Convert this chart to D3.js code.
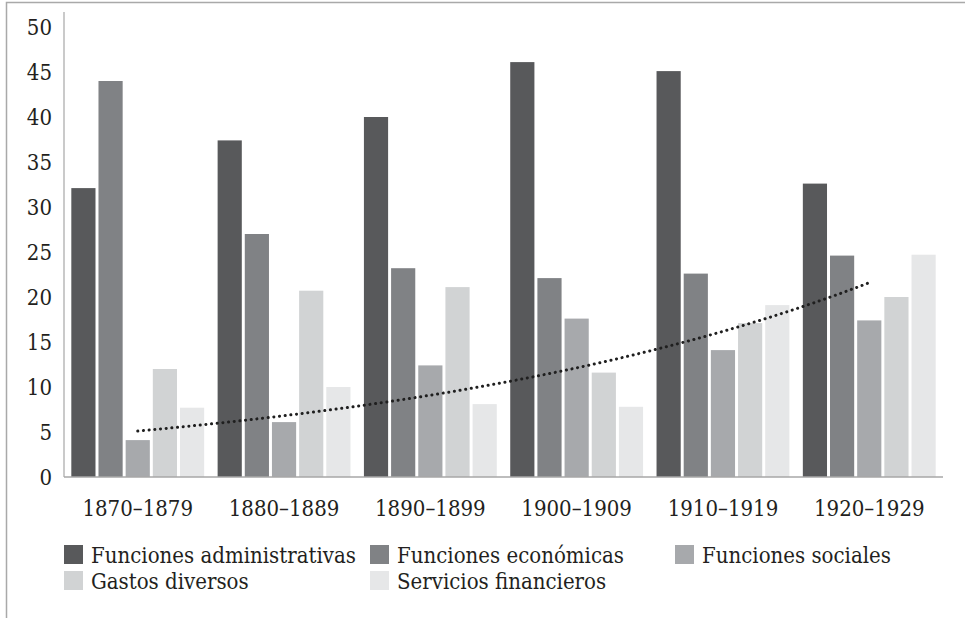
<!DOCTYPE html>
<html>
<head>
<meta charset="utf-8">
<script src="https://cdn.jsdelivr.net/npm/d3@7"></script>
<style>
  body { margin: 0; background: #fff; }
</style>
</head>
<body>
<div class="chart"></div>
<script>
// data
const categories = ["1870–1879", "1880–1889", "1890–1899", "1900–1909", "1910–1919", "1920–1929"];
const seriesNames = ["Funciones administrativas", "Funciones económicas", "Funciones sociales", "Gastos diversos", "Servicios financieros"];
const administrativas = [32.1, 37.4, 40.0, 46.1, 45.1, 32.6];
const economicas = [44.0, 27.0, 23.2, 22.1, 22.6, 24.6];
const sociales = [4.1, 6.1, 12.4, 17.6, 14.1, 17.4];
const diversos = [12.0, 20.7, 21.1, 11.6, 17.1, 20.0];
const financieros = [7.7, 10.0, 8.1, 7.8, 19.1, 24.7];
const yTicks = [0, 5, 10, 15, 20, 25, 30, 35, 40, 45, 50];

const seriesValues = [administrativas, economicas, sociales, diversos, financieros];
const colors = ["#58595b", "#808285", "#a7a9ac", "#d1d3d4", "#e6e7e8"];

let config = {
  width: 965,
  height: 618,
  left: 64,
  right: 943,
  top: 27,
  bottom: 477,
  font: "'DejaVu Serif Condensed', 'DejaVu Serif', serif",
  fontSize: "22px",
  textColor: "#231f20",
  axisColor: "#a7a7a7"
};

let svg = d3.select("div.chart").append("svg")
  .attr("width", config.width)
  .attr("height", config.height);

// frame (top + left)
svg.append("path")
  .attr("d", "M6.5,618 L6.5,2.5 L965,2.5")
  .attr("fill", "none")
  .attr("stroke", "#a9a9a9")
  .attr("stroke-width", 1.5);

let x0 = d3.scaleBand()
  .domain(categories)
  .range([config.left, config.right])
  .paddingInner(0.092)
  .paddingOuter(0.05);

let x1 = d3.scaleBand()
  .domain(seriesNames)
  .range([0, x0.bandwidth()])
  .paddingInner(0.11);

let y = d3.scaleLinear()
  .domain([0, 50])
  .range([config.bottom, config.top]);

// bars
let groups = svg.append("g").selectAll("g")
  .data(categories)
  .enter().append("g")
  .attr("transform", d => "translate(" + x0(d) + ",0)");

groups.selectAll("rect")
  .data((c, i) => seriesNames.map((s, j) => ({ s: s, j: j, v: seriesValues[j][i] })))
  .enter().append("rect")
  .attr("x", d => x1(d.s))
  .attr("width", x1.bandwidth())
  .attr("y", d => y(d.v))
  .attr("height", d => y(0) - y(d.v))
  .attr("fill", d => colors[d.j]);

// axes lines
svg.append("line")
  .attr("x1", config.left).attr("x2", config.left)
  .attr("y1", 12).attr("y2", y(0))
  .attr("stroke", config.axisColor).attr("stroke-width", 1.2);

svg.append("line")
  .attr("x1", config.left).attr("x2", config.right)
  .attr("y1", y(0)).attr("y2", y(0))
  .attr("stroke", config.axisColor).attr("stroke-width", 1.5);

// y axis labels
let yAxis = svg.append("g")
  .attr("transform", "translate(" + config.left + ",0)")
  .call(d3.axisLeft(y).tickValues(yTicks).tickSize(0).tickPadding(12));
yAxis.select(".domain").remove();
yAxis.selectAll("text")
  .attr("font-family", config.font)
  .attr("font-size", config.fontSize)
  .attr("fill", config.textColor);

// x axis labels
let xAxis = svg.append("g")
  .attr("transform", "translate(0," + y(0) + ")")
  .call(d3.axisBottom(x0).tickSize(0).tickPadding(23));
xAxis.select(".domain").remove();
xAxis.selectAll("text")
  .attr("font-family", config.font)
  .attr("font-size", config.fontSize)
  .attr("fill", config.textColor);

// exponential trend line fitted to "Funciones sociales"
let idx = d3.range(sociales.length);
let logs = sociales.map(v => Math.log(v));
let mx = d3.mean(idx), my = d3.mean(logs);
let slope = d3.sum(idx, i => (i - mx) * (logs[i] - my)) / d3.sum(idx, i => (i - mx) * (i - mx));
let intercept = my - slope * mx;

let xIdx = d3.scaleLinear()
  .domain([0, categories.length - 1])
  .range([x0(categories[0]) + x0.bandwidth() / 2, x0(categories[categories.length - 1]) + x0.bandwidth() / 2]);

let trendPts = d3.range(0, 5.0001, 0.1).map(t => [t, Math.exp(intercept + slope * t)]);

svg.append("path")
  .attr("d", d3.line().x(d => xIdx(d[0])).y(d => y(d[1]))(trendPts))
  .attr("fill", "none")
  .attr("stroke", "#1f1f1f")
  .attr("stroke-width", 3)
  .attr("stroke-linecap", "round")
  .attr("stroke-dasharray", "0.1,5.6");

// legend
let legendPos = [[64, 555], [370, 555], [675, 555], [64, 581], [370, 581]];
let legend = svg.append("g").selectAll("g")
  .data(seriesNames)
  .enter().append("g")
  .attr("transform", (d, i) => "translate(" + legendPos[i][0] + "," + legendPos[i][1] + ")");

legend.append("rect")
  .attr("x", 0).attr("y", -10)
  .attr("width", 19).attr("height", 19)
  .attr("fill", (d, i) => colors[i]);

legend.append("text")
  .attr("x", 27)
  .attr("dy", "0.35em")
  .attr("font-family", config.font)
  .attr("font-size", config.fontSize)
  .attr("fill", config.textColor)
  .text(d => d);
</script>
</body>
</html>
